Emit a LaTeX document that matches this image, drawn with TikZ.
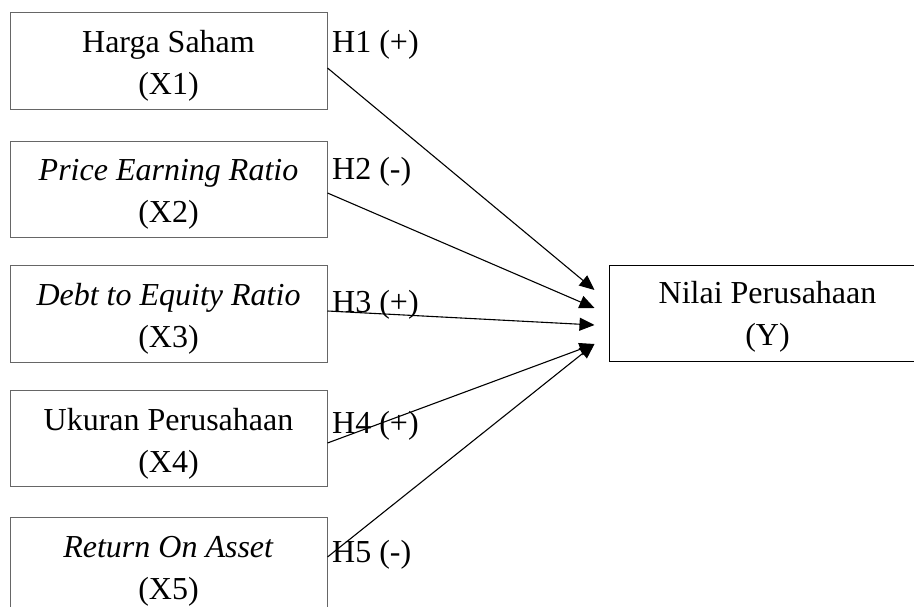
\documentclass[tikz,border=0pt]{standalone}
\usepackage{fontspec}
\setmainfont{Liberation Serif}
\usetikzlibrary{arrows.meta}
\begin{document}
\begin{tikzpicture}[x=1pt,y=-1pt,
  varbox/.style={draw=black!60, line width=1pt, minimum width=317pt, minimum height=96.5pt, inner sep=0pt},
  ybox/.style={varbox, draw=black},
  boxtext/.style={inner sep=0pt, align=center, font=\fontsize{32}{42}\selectfont},
  hlabel/.style={anchor=base west, inner sep=0pt, font=\fontsize{32}{42}\selectfont},
  arr/.style={line width=1.1pt, -{Triangle[length=15pt,width=13pt]}}]
\clip (0,0) rectangle (914,607);
\fill[white] (0,0) rectangle (914,607);
\node[varbox] (b1) at (168.5,61) {};
\node[varbox] (b2) at (168.5,189.5) {};
\node[varbox] (b3) at (168.5,314) {};
\node[varbox] (b4) at (168.5,438.5) {};
\node[varbox] (b5) at (168.5,566) {};
\node[ybox] (y) at (767.5,313.5) {};
\node[boxtext] (b1t) at ([yshift=-5pt]b1.center) {Harga Saham\\(X1)};
\node[boxtext] (b2t) at ([yshift=-5pt]b2.center) {\textit{Price Earning Ratio}\\(X2)};
\node[boxtext] (b3t) at ([yshift=-5pt]b3.center) {\textit{Debt to Equity Ratio}\\(X3)};
\node[boxtext] (b4t) at ([yshift=-5pt]b4.center) {Ukuran Perusahaan\\(X4)};
\node[boxtext] (b5t) at ([yshift=-5pt]b5.center) {\textit{Return On Asset}\\(X5)};
\node[boxtext] (yt) at ([yshift=-3pt]y.center) {Nilai Perusahaan\\(Y)};
\node[hlabel] (h1) at (332,53) {H1 (+)};
\node[hlabel] (h2) at (332,180) {H2 (-)};
\node[hlabel] (h3) at (332,312) {H3 (+)};
\node[hlabel] (h4) at (332,433) {H4 (+)};
\node[hlabel] (h5) at (332,562) {H5 (-)};
\coordinate (t1) at ([xshift=-14pt,yshift=23.5pt]y.west);
\coordinate (t2) at ([xshift=-14pt,yshift=5.5pt]y.west);
\coordinate (t3) at ([xshift=-14pt,yshift=-11.5pt]y.west);
\coordinate (t4) at ([xshift=-14pt,yshift=-30.5pt]y.west);
\draw[arr] ([yshift=-7pt]b1.east) -- (t1);
\draw[arr] ([yshift=-3.5pt]b2.east) -- (t2);
\draw[arr] ([yshift=3pt]b3.east) -- (t3);
\draw[arr] ([yshift=-4.5pt]b4.east) -- (t4);
\draw[arr] ([yshift=9pt]b5.east) -- (t4);
\end{tikzpicture}
\end{document}
